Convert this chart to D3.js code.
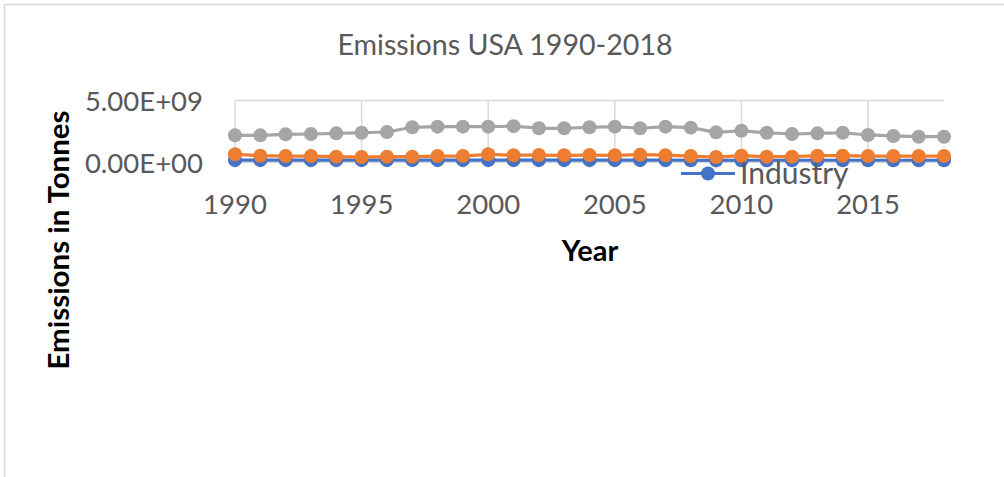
<!DOCTYPE html>
<html>
<head>
<meta charset="utf-8">
<script src="https://cdn.jsdelivr.net/npm/d3@7"></script>
<style>
  html, body { margin: 0; padding: 0; background: #fff; }
  svg { display: block; }
  text { font-family: Lato, "Open Sans", sans-serif; }
</style>
</head>
<body>
<svg id="chart" width="1004" height="477"></svg>
<script>
// Years on the horizontal axis
const years = [1990, 1991, 1992, 1993, 1994, 1995, 1996, 1997, 1998, 1999,
               2000, 2001, 2002, 2003, 2004, 2005, 2006, 2007, 2008, 2009,
               2010, 2011, 2012, 2013, 2014, 2015, 2016, 2017, 2018];

// Emissions in tonnes per series
const industry = [1.9e8, 1.9e8, 1.9e8, 1.9e8, 1.9e8, 1.9e8, 1.9e8, 1.9e8, 1.9e8, 1.9e8,
                  1.9e8, 1.9e8, 1.9e8, 1.9e8, 1.9e8, 1.9e8, 1.9e8, 1.9e8, 1.8e8, 1.7e8,
                  1.8e8, 1.8e8, 1.8e8, 1.8e8, 1.8e8, 1.8e8, 1.8e8, 1.8e8, 1.8e8];
const orangeSeries = [6.6e8, 5.5e8, 5.2e8, 5.2e8, 4.7e8, 4.4e8, 4.7e8, 4.7e8, 5.2e8, 5.2e8,
                      6.6e8, 5.9e8, 6.0e8, 5.8e8, 6.0e8, 5.8e8, 6.3e8, 5.9e8, 5.2e8, 4.4e8,
                      5.5e8, 4.7e8, 4.7e8, 5.5e8, 5.5e8, 5.2e8, 5.2e8, 5.2e8, 5.2e8];
const greySeries = [2.19e9, 2.19e9, 2.27e9, 2.30e9, 2.35e9, 2.40e9, 2.46e9, 2.84e9, 2.89e9, 2.89e9,
                    2.89e9, 2.93e9, 2.76e9, 2.76e9, 2.84e9, 2.89e9, 2.76e9, 2.89e9, 2.81e9, 2.43e9,
                    2.56e9, 2.40e9, 2.30e9, 2.35e9, 2.40e9, 2.22e9, 2.14e9, 2.08e9, 2.08e9];

// Axis ticks
const xTicks = [1990, 1995, 2000, 2005, 2010, 2015];
const yTicks = [0, 5e9];
const yTickLabels = ["0.00E+00", "5.00E+09"];

const legendLabels = ["Industry"];

const svg = d3.select("#chart");

// Chart area frame (top and left edges visible)
svg.append("path")
  .attr("d", "M4.5,1000 V4.5 H1200")
  .attr("fill", "none")
  .attr("stroke", "#d9d9d9")
  .attr("stroke-width", 1.5);

const x = d3.scaleLinear().domain([1990, 2018]).range([235, 944]);
const y = d3.scaleLinear().domain([0, 5e9]).range([162.5, 100.5]);

// Title
svg.append("text")
  .attr("x", 505).attr("y", 55)
  .attr("text-anchor", "middle")
  .attr("fill", "#595959")
  .attr("font-size", 28.6)
  .text("Emissions USA 1990-2018");

// Gridlines
const grid = svg.append("g").attr("stroke", "#d9d9d9").attr("stroke-width", 1.5);
grid.selectAll("line.h").data(yTicks).join("line")
  .attr("class", "h")
  .attr("x1", x(1990)).attr("x2", x(2018))
  .attr("y1", d => y(d)).attr("y2", d => y(d));
grid.selectAll("line.v").data(xTicks).join("line")
  .attr("class", "v")
  .attr("x1", d => x(d)).attr("x2", d => x(d))
  .attr("y1", y(5e9)).attr("y2", y(0));

// Y tick labels
svg.append("g").selectAll("text").data(yTicks).join("text")
  .attr("x", 203)
  .attr("y", d => y(d) + 10)
  .attr("text-anchor", "end")
  .attr("fill", "#595959")
  .attr("font-size", 27.5)
  .text((d, i) => yTickLabels[i]);

// X tick labels
svg.append("g").selectAll("text").data(xTicks).join("text")
  .attr("x", d => x(d))
  .attr("y", 214)
  .attr("text-anchor", "middle")
  .attr("fill", "#595959")
  .attr("font-size", 27.5)
  .text(d => d);

// Axis titles
svg.append("text")
  .attr("x", 590).attr("y", 261)
  .attr("text-anchor", "middle")
  .attr("font-weight", "bold")
  .attr("fill", "#000")
  .attr("font-size", 29)
  .text("Year");

svg.append("text")
  .attr("transform", "translate(69,240) rotate(-90)")
  .attr("text-anchor", "middle")
  .attr("font-weight", "bold")
  .attr("fill", "#000")
  .attr("font-size", 28)
  .attr("textLength", 259)
  .attr("lengthAdjust", "spacingAndGlyphs")
  .text("Emissions in Tonnes");

// Series lines with circle markers
const series = [
  { values: industry, color: "#4472c4" },
  { values: orangeSeries, color: "#ed7d31" },
  { values: greySeries, color: "#a5a5a5" }
];

const line = d3.line()
  .x((d, i) => x(years[i]))
  .y(d => y(d));

series.forEach(s => {
  const g = svg.append("g");
  g.append("path")
    .attr("d", line(s.values))
    .attr("fill", "none")
    .attr("stroke", s.color)
    .attr("stroke-width", 3.2)
    .attr("stroke-linejoin", "round");
  g.selectAll("circle").data(s.values).join("circle")
    .attr("cx", (d, i) => x(years[i]))
    .attr("cy", d => y(d))
    .attr("r", 7)
    .attr("fill", s.color);
});

// Legend
const legend = svg.append("g");
legend.append("line")
  .attr("x1", 681).attr("x2", 735)
  .attr("y1", 173.5).attr("y2", 173.5)
  .attr("stroke", "#4472c4")
  .attr("stroke-width", 3.2);
legend.append("circle")
  .attr("cx", 708).attr("cy", 173.5).attr("r", 7)
  .attr("fill", "#4472c4");
legend.append("text")
  .attr("x", 740).attr("y", 183.5)
  .attr("fill", "#595959")
  .attr("font-size", 30)
  .text(legendLabels[0]);
</script>
</body>
</html>
